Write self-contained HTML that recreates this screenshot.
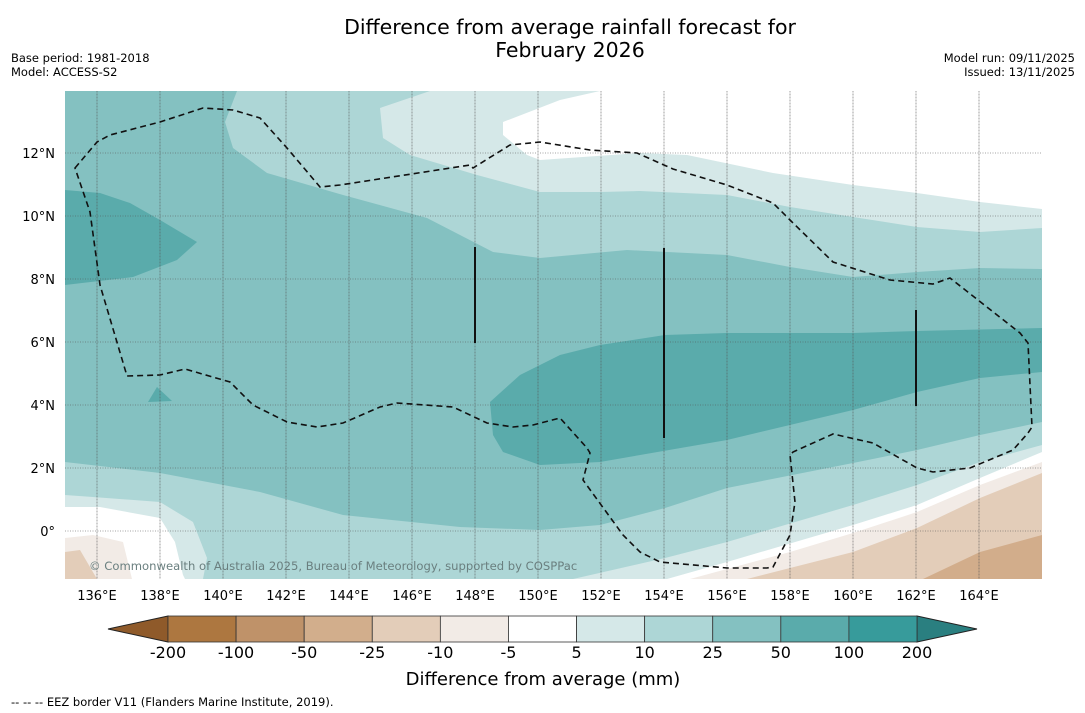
<!DOCTYPE html>
<html><head><meta charset="utf-8"><style>
body{margin:0;background:#fff;width:1085px;height:713px;overflow:hidden;font-family:"DejaVu Sans","Liberation Sans",sans-serif}
svg{display:block}
</style></head><body>
<svg width="1085" height="713" viewBox="0 0 1085 713">
<text x="570" y="34" font-size="20.5" text-anchor="middle">Difference from average rainfall forecast for</text>
<text x="570" y="57" font-size="20.5" text-anchor="middle">February 2026</text>
<text x="11" y="62" font-size="11.5">Base period: 1981-2018</text>
<text x="11" y="76" font-size="11.5">Model: ACCESS-S2</text>
<text x="1075" y="62" font-size="11.5" text-anchor="end">Model run: 09/11/2025</text>
<text x="1075" y="76" font-size="11.5" text-anchor="end">Issued: 13/11/2025</text>
<defs><clipPath id="mc"><rect x="65" y="91" width="977" height="488"/></clipPath></defs>
<g clip-path="url(#mc)">
<rect x="65" y="91" width="977" height="488" fill="#84c1c1"/>
<path fill="#add6d6" d="M237,91 L225,122 L233,148 L267,173 L343,195 L427,218 L493,252 L540,258 L627,250 L727,255 L790,267 L853,277 L917,272 L980,268 L1042,269 L1042,91 Z"/>
<path fill="#d5e8e8" d="M430,91 L380,108 L383,138 L410,155 L477,175 L540,192 L600,192 L640,191 L727,195 L790,207 L853,217 L917,227 L980,232 L1042,228 L1042,91 Z"/>
<path fill="#ffffff" d="M600,91 L560,100 L503,122 L503,135 L527,155 L540,160 L640,153 L687,155 L773,173 L853,185 L917,193 L980,202 L1042,209 L1042,91 Z"/>
<path fill="#5aabab" d="M65,190 L100,193 L130,203 L160,220 L197,242 L177,260 L133,277 L65,285 Z"/>
<path fill="#5aabab" d="M157,387 L172,401 L148,402 Z"/>
<path fill="#5aabab" d="M560,355 L600,345 L665,335 L727,333 L853,333 L917,331 L1042,328 L1042,372 L980,378 L917,392 L853,410 L727,440 L600,462 L540,465 L503,452 L493,435 L490,402 L520,375 Z"/>
<path fill="#add6d6" d="M65,462 L160,473 L260,492 L343,515 L460,527 L540,530 L600,525 L665,508 L727,488 L853,463 L917,450 L980,435 L1042,422 L1042,579 L65,579 Z"/>
<path fill="#d5e8e8" d="M65,495 L93,497 L160,502 L193,522 L207,558 L203,579 L65,579 Z"/>
<path fill="#d5e8e8" d="M573,579 L665,558 L727,542 L853,505 L917,485 L980,462 L1042,445 L1042,579 Z"/>
<path fill="#ffffff" d="M65,507 L100,507 L160,518 L175,542 L183,575 L185,579 L65,579 Z"/>
<path fill="#ffffff" d="M667,579 L727,562 L853,525 L917,505 L980,478 L1042,452 L1042,579 Z"/>
<path fill="#f2ebe6" d="M690,579 L790,552 L853,533 L917,512 L980,485 L1042,462 L1042,579 Z"/>
<path fill="#f2ebe6" d="M65,538 L93,535 L123,542 L132,579 L65,579 Z"/>
<path fill="#e3cdb9" d="M747,579 L853,552 L917,528 L980,498 L1042,473 L1042,579 Z"/>
<path fill="#e3cdb9" d="M65,552 L80,550 L97,579 L65,579 Z"/>
<path fill="#d2ad8b" d="M923,579 L980,552 L1042,535 L1042,579 Z"/>
<g id="grid" stroke="#555" stroke-width="0.8" opacity="0.7"></g>
<path fill="none" stroke="#111" stroke-width="1.6" stroke-dasharray="6,4" d="M75,168 L97,142 L110,135 L160,122 L203,108 L233,110 L260,118 L287,148 L320,187 L340,185 L470,165 L473,168 L510,145 L540,142 L590,150 L637,153 L673,169 L727,185 L773,203 L790,220 L833,262 L890,280 L933,284 L950,278 L1020,333 L1028,343 L1032,427 L1028,433 L1013,450 L970,468 L933,472 L917,468 L873,443 L833,434 L793,452 L790,455 L795,502 L790,535 L773,567 L767,568 L727,568 L660,562 L640,552 L623,535 L583,480 L590,453 L587,448 L560,418 L533,425 L513,427 L487,423 L453,407 L397,403 L380,407 L343,423 L317,427 L287,422 L253,405 L230,382 L185,369 L160,375 L127,376 L100,285 L90,212 Z"/>
<g stroke="#111" stroke-width="2">
<line x1="475" y1="247" x2="475" y2="343"/>
<line x1="664" y1="248" x2="664" y2="438"/>
<line x1="916" y1="310" x2="916" y2="406"/>
</g>
<text x="89" y="570" font-size="11.6" fill="#6a7f7f">© Commonwealth of Australia 2025, Bureau of Meteorology, supported by COSPPac</text>
</g>
<g id="ticks" font-size="13"></g>
<g id="cbar"></g>
<text x="543" y="685" font-size="18" text-anchor="middle">Difference from average (mm)</text>
<text x="11" y="706" font-size="11.5">--  --  -- EEZ border V11 (Flanders Marine Institute, 2019).</text>
</svg>
<script>
const lonTicks=[136,138,140,142,144,146,148,150,152,154,156,158,160,162,164];
const latTicks=[0,2,4,6,8,10,12];
const cbLabels=["-200","-100","-50","-25","-10","-5","5","10","25","50","100","200"];
const cbColors=["#ad7740","#bf9269","#d2ae8c","#e3cdb9","#f2ebe6","#ffffff","#d5e8e8","#add6d6","#84c1c1","#5aabab","#379b9b"];
const NS="http://www.w3.org/2000/svg";
function xLon(l){return 97+(l-136)*31.5;}
function yLat(l){return 531-l*31.5;}
function mk(t,a,p){const e=document.createElementNS(NS,t);for(const k in a)e.setAttribute(k,a[k]);p.appendChild(e);return e;}
const grid=document.getElementById('grid'),ticks=document.getElementById('ticks'),cb=document.getElementById('cbar');
lonTicks.forEach(l=>{
 const g=mk('line',{x1:xLon(l),x2:xLon(l),y1:91,y2:579,'stroke-dasharray':'1,0.5'},grid);
 
 
 const t=mk('text',{x:xLon(l),y:600,'text-anchor':'middle'},ticks);t.textContent=l+'°E';
 
 
});
latTicks.forEach(l=>{
 const g=mk('line',{x1:65,x2:1042,y1:yLat(l),y2:yLat(l),'stroke-dasharray':'1,1.5'},grid);
 
 
 const t=mk('text',{x:55,y:yLat(l)+5,'text-anchor':'end'},ticks);t.textContent=l===0?'0°':l+'°N';
 
 
});
const x0=168,bw=(917-168)/cbColors.length,y0=616,h=26;
const lt=mk('polygon',{points:`108,${y0+h/2} ${x0},${y0} ${x0},${y0+h}`,fill:'#8f5a2a',stroke:'#222','stroke-width':1},cb);


const rt=mk('polygon',{points:`977,${y0+h/2} 917,${y0} 917,${y0+h}`,fill:'#2a7f80',stroke:'#222','stroke-width':1},cb);


cbColors.forEach((c,i)=>{
 const r=mk('rect',{x:x0+i*bw,y:y0,width:bw,height:h,fill:c,stroke:'#333','stroke-width':0.8},cb);
 
 
});
cbLabels.forEach((s,i)=>{
 const t=mk('text',{x:x0+i*bw,y:658,'font-size':16,'text-anchor':'middle'},cb);t.textContent=s;
 
 
});
</script>
</body></html>
